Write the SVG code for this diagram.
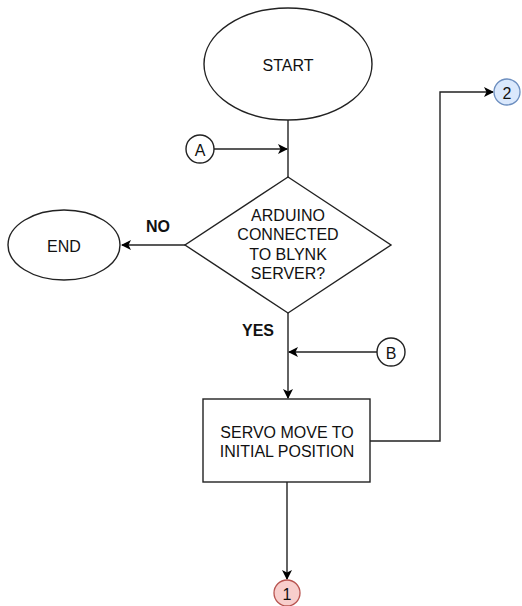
<svg xmlns="http://www.w3.org/2000/svg" width="522" height="606" viewBox="0 0 522 606">
<defs>
<marker id="arr" markerWidth="10" markerHeight="10" viewBox="0 0 10 10" refX="9" refY="5" orient="auto" markerUnits="userSpaceOnUse">
<path d="M0,0 L10,5 L0,10 L2.5,5 Z" fill="#000"/>
</marker>
</defs>
<style>
.s{fill:#fff;stroke:#222;stroke-width:1.4}
.t{font-family:"Liberation Sans",Arial,sans-serif;font-size:16px;fill:#111;text-anchor:middle;dominant-baseline:central}
.b{font-weight:bold}
.c{fill:none;stroke:#222;stroke-width:1.4}
</style>
<rect width="522" height="606" fill="#fff"/>
<g id="connectors">
<path class="c" d="M288,120 V177"/>
<path class="c" d="M214,149 H287" marker-end="url(#arr)"/>
<path class="c" d="M185,245 H122" marker-end="url(#arr)"/>
<path class="c" d="M288,313 V398" marker-end="url(#arr)"/>
<path class="c" d="M377,352 H289" marker-end="url(#arr)"/>
<path class="c" d="M370,441 H440 V92 H493" marker-end="url(#arr)"/>
<path class="c" d="M287,482 V579" marker-end="url(#arr)"/>
<text class="t b" x="158" y="226">NO</text>
<text class="t b" x="258" y="330">YES</text>
</g>
<g id="start">
<ellipse class="s" cx="288" cy="64" rx="84" ry="56"/>
<text class="t" x="288" y="65">START</text>
</g>
<g id="connA">
<circle class="s" cx="200" cy="149" r="14"/>
<text class="t" x="200" y="150">A</text>
</g>
<g id="decision">
<polygon class="s" points="288,177 391,245 288,313 185,245"/>
<text class="t" x="288" y="215">ARDUINO</text>
<text class="t" x="288" y="234.5">CONNECTED</text>
<text class="t" x="288" y="254">TO BLYNK</text>
<text class="t" x="288" y="273.5">SERVER?</text>
</g>
<g id="end">
<ellipse class="s" cx="64" cy="245" rx="56" ry="35"/>
<text class="t" x="64" y="246">END</text>
</g>
<g id="connB">
<circle class="s" cx="391" cy="352" r="14"/>
<text class="t" x="391" y="353">B</text>
</g>
<g id="servo">
<rect class="s" x="203" y="399" width="167" height="83"/>
<text class="t" x="287" y="432">SERVO MOVE TO</text>
<text class="t" x="287" y="451">INITIAL POSITION</text>
</g>
<g id="conn1">
<circle cx="287" cy="593" r="13" fill="#f8cecc" stroke="#b85450" stroke-width="1.3"/>
<text class="t" x="287" y="594">1</text>
</g>
<g id="conn2">
<circle cx="507" cy="92" r="13" fill="#dae8fc" stroke="#6c8ebf" stroke-width="1.3"/>
<text class="t" x="507" y="93">2</text>
</g>
</svg>
